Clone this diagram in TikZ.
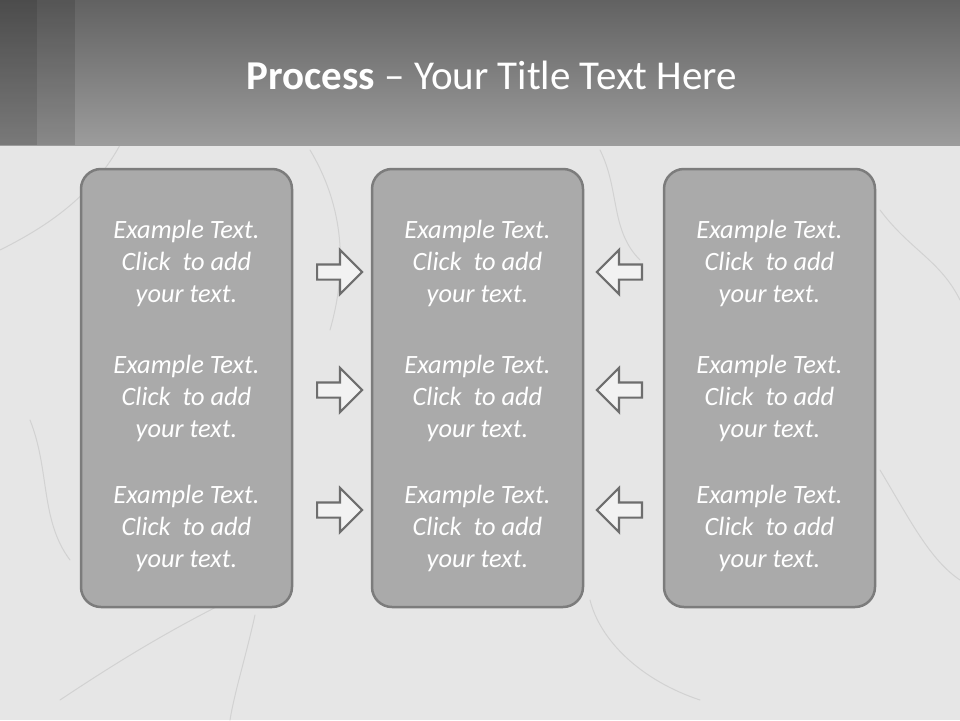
\documentclass[tikz,border=0pt]{standalone}
\usepackage{fontspec}
\setmainfont{Carlito}
\usetikzlibrary{shapes.arrows}
\definecolor{marble}{RGB}{230,230,230}
\definecolor{crack}{RGB}{210,210,210}
\definecolor{panelgray}{RGB}{170,170,170}
\definecolor{panelline}{RGB}{124,124,124}
\definecolor{arrowline}{RGB}{110,110,110}
\definecolor{headtop}{RGB}{98,98,98}
\definecolor{headbottom}{RGB}{156,156,156}

\begin{document}
\begin{tikzpicture}[x=1pt, y=-1pt,
    vein/.style={crack, line width=1pt, line cap=round},
    panel/.style={draw=panelline, line width=2.5pt, fill=panelgray, rounded corners=20pt,
      minimum width=211pt, minimum height=438pt, inner sep=0pt},
    blurb/.style={text=white, align=center, font=\fontsize{26.4}{32}\selectfont\itshape},
    blockarrow/.style={single arrow, draw=arrowline, line width=2.2pt, fill=white!95!black,
      minimum height=45pt, single arrow head extend=14.5pt,
      inner xsep=0pt, inner ysep=6.5pt}]
  \useasboundingbox (0,0) rectangle (960,720);
  % background with a few veins of the marble
  \fill[marble] (0,0) rectangle (960,720);
  \draw[vein] (120,145) .. controls (90,200) and (40,230) .. (0,250);
  \draw[vein] (310,150) .. controls (340,200) and (350,260) .. (330,330);
  \draw[vein] (60,700) .. controls (120,660) and (170,630) .. (230,600);
  \draw[vein] (255,615) .. controls (245,660) and (235,690) .. (230,720);
  \draw[vein] (590,600) .. controls (600,640) and (640,680) .. (700,700);
  \draw[vein] (880,470) .. controls (910,520) and (930,560) .. (960,580);
  \draw[vein] (600,150) .. controls (620,190) and (610,230) .. (640,260);
  \draw[vein] (30,420) .. controls (50,470) and (40,520) .. (70,560);
  \draw[vein] (880,210) .. controls (910,250) and (940,260) .. (960,300);
  % header band
  \shade[top color=headtop, bottom color=headbottom] (0,0) rectangle (960,145);
  \fill[black, opacity=0.22] (0,0) rectangle (37,145);
  \fill[black, opacity=0.12] (37,0) rectangle (75,145);
  \node[text=white, font=\fontsize{41}{48}\selectfont] (title) at (492,75)
    {\textbf{Process} -- Your Title Text Here};
  % the three panels
  \node[panel] (p1) at (186.5,388) {};
  \node[panel] (p2) at (477.5,388) {};
  \node[panel] (p3) at (769.5,388) {};
  % texts in the panels, three rows each
  \foreach \p in {1,2,3}
    \foreach \r/\y in {1/263, 2/398, 3/528}
      \node[blurb] (t\p\r) at (p\p.center |- 0,\y) {Example Text.\\Click\ \ to add\\your text.};
  % arrows pointing into the middle panel
  \foreach \r/\y in {1/272, 2/390, 3/510} {
    \node[blockarrow, anchor=tail] (ra\r) at (316,\y) {};
    \node[blockarrow, anchor=tail, shape border rotate=180] (la\r) at (643,\y) {};
  }
\end{tikzpicture}
\end{document}
